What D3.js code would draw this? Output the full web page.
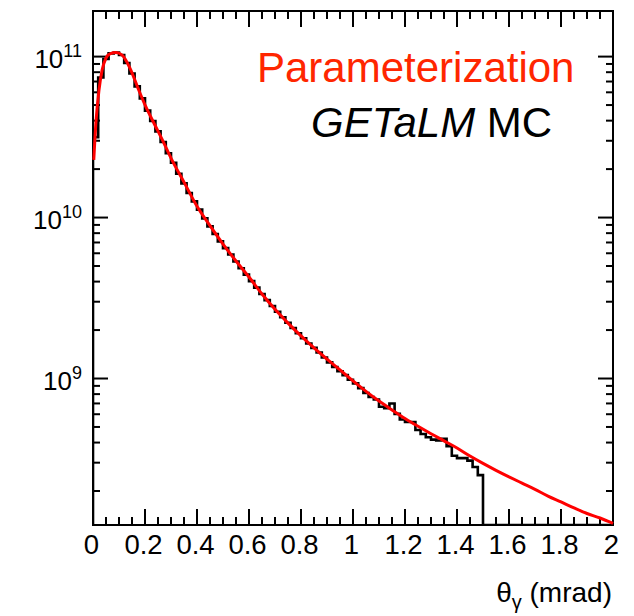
<!DOCTYPE html>
<html><head><meta charset="utf-8">
<script src="https://cdn.jsdelivr.net/npm/d3@7/dist/d3.min.js"></script>
<style>
body{margin:0;background:#fff}
svg{display:block}
text{font-family:"Liberation Sans",Arial,Helvetica,sans-serif}
</style>
</head><body>
<svg id="c" width="634" height="616"></svg>
<script>
// ---- data ----
const xTickValues = [0, 0.2, 0.4, 0.6, 0.8, 1, 1.2, 1.4, 1.6, 1.8, 2];
const xTickLabels = ["0", "0.2", "0.4", "0.6", "0.8", "1", "1.2", "1.4", "1.6", "1.8", "2"];
const yDecades = [9, 10, 11];
const histBinWidth = 0.02;
// GETaLM MC histogram contents (bins of 0.02 mrad from 0 to 2)
const histValues = [
  3.16e10, 7.41e10, 9.66e10, 1.047e11, 1.059e11, 1.023e11, 9.12e10, 7.85e10, 6.53e10, 5.5e10,
  4.62e10, 3.98e10, 3.43e10, 2.95e10, 2.51e10, 2.19e10, 1.87e10, 1.63e10, 1.42e10, 1.26e10,
  1.12e10, 9.89e9, 8.81e9, 7.91e9, 7.11e9, 6.46e9, 5.89e9, 5.33e9, 4.84e9, 4.42e9,
  4.03e9, 3.67e9, 3.35e9, 3.07e9, 2.82e9, 2.6e9, 2.4e9, 2.22e9, 2.06e9, 1.91e9,
  1.78e9, 1.65e9, 1.55e9, 1.45e9, 1.35e9, 1.26e9, 1.18e9, 1.11e9, 1.05e9, 9.82e8,
  9.33e8, 8.71e8, 8.13e8, 7.67e8, 7.41e8, 6.68e8, 6.53e8, 7.0e8, 6.03e8, 5.56e8,
  5.37e8, 5.37e8, 4.79e8, 4.52e8, 4.32e8, 4.17e8, 4.12e8, 4.22e8, 3.8e8, 3.31e8,
  3.2e8, 3.2e8, 3.09e8, 2.82e8, 2.51e8,
  0, 0, 0, 0, 0, 0, 0, 0, 0, 0, 0, 0, 0, 0, 0, 0, 0, 0, 0, 0, 0, 0, 0, 0, 0
];
// Parameterization curve
const paramX = [0.003, 0.012, 0.023, 0.035, 0.05, 0.065, 0.088, 0.112, 0.142, 0.173, 0.204, 0.238, 0.27,
  0.3, 0.35, 0.4, 0.45, 0.5, 0.55, 0.6, 0.65, 0.7, 0.75, 0.8, 0.85, 0.9, 0.95, 1.0, 1.05, 1.1, 1.15, 1.2,
  1.25, 1.3, 1.35, 1.4, 1.45, 1.5, 1.55, 1.6, 1.65, 1.7, 1.75, 1.8, 1.85, 1.9, 1.95, 2.0];
const paramY = [2.28e10, 4.04e10, 6.19e10, 8.24e10, 9.8e10, 1.04e11, 1.06e11, 1.02e11, 8.49e10, 6.37e10, 4.85e10, 3.76e10, 2.96e10,
  2.34e10, 1.66e10, 1.175e10, 8.9e9, 6.84e9, 5.37e9, 4.27e9, 3.35e9, 2.69e9, 2.21e9, 1.84e9, 1.55e9, 1.32e9, 1.13e9, 9.66e8, 8.32e8, 7.24e8, 6.38e8, 5.65e8,
  5.05e8, 4.54e8, 4.1e8, 3.7e8, 3.3e8, 2.97e8, 2.69e8, 2.45e8, 2.24e8, 2.05e8, 1.86e8, 1.71e8, 1.57e8, 1.45e8, 1.36e8, 1.26e8];
const xTitle = {main: "θ", sub: "γ", rest: " (mrad)"};
const legend1 = "Parameterization";
const legend2Italic = "GETaLM", legend2Rest = " MC";

// ---- layout ----
const W = 634, H = 616;
const frame = {left: 93, top: 11, right: 613, bottom: 525};
const svg = d3.select("#c");
svg.append("rect").attr("width", W).attr("height", H).attr("fill", "#fff");

const x = d3.scaleLinear().domain([0, 2]).range([frame.left, frame.right]);
const y = d3.scaleLog().domain([1.23e8, 1.92e11]).range([frame.bottom, frame.top]);

const defs = svg.append("defs");
defs.append("clipPath").attr("id", "clip").append("rect")
  .attr("x", frame.left).attr("y", frame.top)
  .attr("width", frame.right - frame.left).attr("height", frame.bottom - frame.top);

// histogram
let d = `M${x(0)},${frame.bottom}`;
histValues.forEach((v, i) => {
  const x0 = x(i * histBinWidth), x1 = x((i + 1) * histBinWidth);
  const yy = v > 0 ? Math.min(y(v), frame.bottom) : frame.bottom;
  d += `L${x0},${yy}L${x1},${yy}`;
});
svg.append("path").attr("d", d).attr("fill", "none").attr("stroke", "#000")
  .attr("stroke-width", 2.6).attr("clip-path", "url(#clip)");

// frame & ticks
const g = svg.append("g").attr("stroke", "#000").attr("stroke-width", 2);
g.append("rect").attr("x", frame.left).attr("y", frame.top)
  .attr("width", frame.right - frame.left).attr("height", frame.bottom - frame.top).attr("fill", "none");

const xMinor = d3.range(0, 2.0001, 0.05).filter(v => Math.abs(v / 0.2 - Math.round(v / 0.2)) > 1e-6);
xTickValues.forEach(v => {
  g.append("line").attr("x1", x(v)).attr("x2", x(v)).attr("y1", frame.bottom).attr("y2", frame.bottom - 16);
  g.append("line").attr("x1", x(v)).attr("x2", x(v)).attr("y1", frame.top).attr("y2", frame.top + 16);
});
xMinor.forEach(v => {
  g.append("line").attr("x1", x(v)).attr("x2", x(v)).attr("y1", frame.bottom).attr("y2", frame.bottom - 8);
  g.append("line").attr("x1", x(v)).attr("x2", x(v)).attr("y1", frame.top).attr("y2", frame.top + 8);
});
const [ymin, ymax] = y.domain();
const yMajor = yDecades.map(e => Math.pow(10, e));
const yMinor = [];
for (let e = 8; e <= 11; e++) for (let k = 2; k <= 9; k++) {
  const v = k * Math.pow(10, e);
  if (v >= ymin && v <= ymax) yMinor.push(v);
}
yMajor.forEach(v => {
  g.append("line").attr("x1", frame.left).attr("x2", frame.left + 15).attr("y1", y(v)).attr("y2", y(v));
  g.append("line").attr("x1", frame.right).attr("x2", frame.right - 15).attr("y1", y(v)).attr("y2", y(v));
});
yMinor.forEach(v => {
  g.append("line").attr("x1", frame.left).attr("x2", frame.left + 7).attr("y1", y(v)).attr("y2", y(v));
  g.append("line").attr("x1", frame.right).attr("x2", frame.right - 7).attr("y1", y(v)).attr("y2", y(v));
});

// x tick labels
xTickValues.forEach((v, i) => {
  svg.append("text").attr("x", x(v) - 1.5).attr("y", 554).attr("text-anchor", "middle")
    .attr("font-size", 27.5).attr("fill", "#000").text(xTickLabels[i]);
});
// y tick labels
yDecades.forEach(e => {
  const t = svg.append("text").attr("x", 82).attr("y", y(Math.pow(10, e)) + 11)
    .attr("text-anchor", "end").attr("font-size", 26).attr("fill", "#000");
  t.append("tspan").text("10");
  t.append("tspan").attr("dy", -11).attr("font-size", 18).text(String(e));
});

// x title
const xt = svg.append("text").attr("x", 612).attr("y", 602).attr("text-anchor", "end")
  .attr("font-size", 28).attr("fill", "#000");
xt.append("tspan").text(xTitle.main);
xt.append("tspan").attr("dy", 7).attr("font-size", 20).text(xTitle.sub);
xt.append("tspan").attr("dy", -7).text(xTitle.rest);

// parameterization curve
const line = d3.line().x(p => x(p[0])).y(p => y(p[1])).curve(d3.curveMonotoneX);
svg.append("path").datum(paramX.map((v, i) => [v, paramY[i]]))
  .attr("d", line).attr("fill", "none").attr("stroke", "#ff0000").attr("stroke-width", 3);

// legend text
svg.append("text").attr("x", 257).attr("y", 82).attr("font-size", 42).attr("fill", "#ff2600").text(legend1);
const l2 = svg.append("text").attr("x", 311).attr("y", 137).attr("font-size", 42).attr("fill", "#000");
l2.append("tspan").attr("font-style", "italic").text(legend2Italic);
l2.append("tspan").text(legend2Rest);
</script>
</body></html>
